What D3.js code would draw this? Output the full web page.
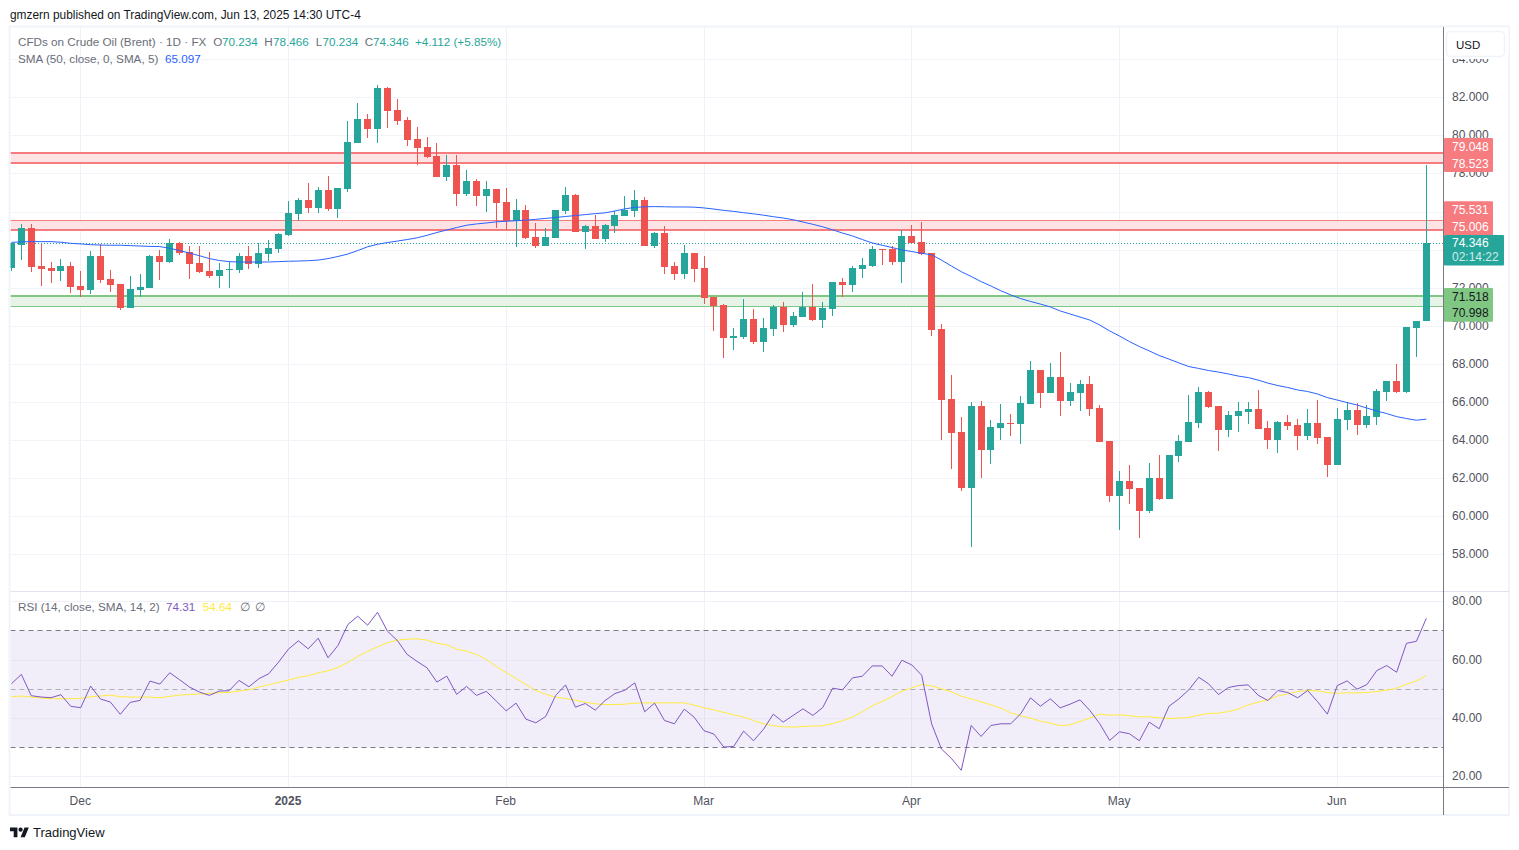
<!DOCTYPE html>
<html><head><meta charset="utf-8">
<style>html,body{margin:0;padding:0;background:#fff;overflow:hidden}svg{display:block}
text{font-family:"Liberation Sans",Arial,sans-serif;font-size:12px}</style>
<script src="https://cdn.jsdelivr.net/npm/d3@7/dist/d3.min.js"></script>
</head><body><svg id="c" width="1519" height="850"></svg>
<script>
const open=[73.02,74.23,75.12,73.12,73.02,72.86,73.12,72.07,71.86,73.65,
72.44,72.18,70.91,71.86,71.96,73.65,73.33,74.33,73.86,73.28,
72.86,72.60,72.91,72.91,73.65,73.23,73.75,74.02,74.75,75.86,
76.60,76.18,77.12,76.12,77.18,79.60,80.86,80.33,82.49,81.33,
80.81,79.81,79.39,78.91,77.81,78.44,76.91,77.60,76.81,77.18,
76.49,75.49,76.07,74.65,74.18,74.60,76.02,76.86,74.91,75.23,
74.54,75.23,75.75,76.02,76.60,74.18,74.86,73.12,72.70,73.81,
73.03,71.51,71.09,69.36,69.41,70.35,69.15,69.83,70.99,70.04,
70.46,70.99,70.30,70.88,72.30,72.14,72.98,73.14,74.03,74.03,
73.35,74.71,74.40,73.82,69.83,66.16,64.42,61.48,65.79,63.48,
64.63,64.90,64.84,65.89,67.68,66.47,67.31,66.05,66.47,66.94,
65.68,63.95,61.06,61.85,61.48,60.27,62.01,60.90,63.16,63.90,
64.89,66.52,65.79,64.53,65.26,65.47,65.63,64.63,64.00,64.95,
64.79,64.21,64.89,64.16,62.69,65.05,65.58,64.79,65.21,66.52,
67.10,66.52,69.88,70.234];
const high=[74.35,75.37,75.32,74.32,73.33,73.49,73.33,72.86,73.91,74.32,
72.91,72.18,72.60,72.70,73.70,73.96,74.54,74.39,74.18,74.18,
73.86,73.28,73.33,73.81,74.18,74.33,74.49,74.86,76.54,76.70,
77.49,77.28,77.86,77.23,80.75,81.70,81.12,82.65,82.54,81.91,
80.96,80.44,79.91,79.60,78.96,78.96,78.18,77.70,77.60,77.18,
77.23,76.65,76.33,75.39,75.12,76.07,77.28,76.91,75.28,75.81,
75.33,76.02,76.81,77.12,76.75,74.91,75.23,73.33,74.23,73.81,
73.66,71.51,71.14,69.88,71.41,70.88,70.41,71.09,71.25,70.72,
71.77,72.19,71.25,72.30,72.51,73.14,73.56,74.19,74.03,74.19,
75.03,75.29,75.45,73.82,70.09,67.42,65.21,66.00,66.05,65.05,
65.89,65.37,66.31,68.15,67.68,68.05,68.62,67.00,67.15,67.36,
65.84,63.95,62.37,62.69,61.48,62.79,63.21,63.21,64.26,66.36,
66.78,66.57,65.79,65.52,66.00,66.00,66.63,64.98,64.98,65.31,
65.10,65.63,66.10,64.16,65.68,66.00,65.94,65.84,66.68,67.10,
67.99,69.94,70.25,78.466];
const low=[72.86,73.44,72.81,72.07,72.23,72.33,71.70,71.49,71.65,72.23,
71.75,70.81,70.91,71.49,71.96,72.39,73.28,73.70,72.44,72.75,
72.49,71.96,71.96,72.75,72.96,73.02,73.39,73.81,74.70,75.49,
75.91,75.91,76.02,75.65,77.02,79.60,79.86,79.60,80.39,80.54,
79.44,78.44,78.81,77.81,77.60,76.28,76.81,76.28,75.96,75.12,
75.02,74.12,74.54,74.07,74.18,74.60,75.86,74.91,74.02,74.54,
74.39,74.86,75.75,75.70,74.18,74.07,72.70,72.39,72.44,72.30,
71.14,69.72,68.31,68.73,69.30,69.04,68.62,69.46,69.67,69.93,
70.46,70.25,69.88,70.51,71.51,71.77,72.51,73.09,73.19,73.19,
72.25,74.35,73.72,69.46,64.00,62.48,61.32,58.38,62.01,62.74,
64.00,64.21,63.79,65.89,65.68,66.47,65.26,65.79,65.53,65.26,
63.90,60.75,59.27,60.64,58.85,60.17,60.85,60.90,62.85,63.90,
64.63,65.68,63.42,64.16,64.42,64.84,64.58,63.53,63.32,64.53,
63.48,64.00,63.79,62.06,62.69,64.53,64.26,64.63,64.79,66.05,
66.47,66.47,68.36,70.234];
const close=[74.35,75.12,73.07,72.96,72.86,73.12,72.02,71.86,73.65,72.39,
72.12,70.91,71.91,72.02,73.65,73.33,74.33,73.81,73.23,72.81,
72.60,72.91,72.96,73.65,73.23,73.81,74.07,74.81,75.91,76.60,
76.18,77.12,76.12,77.23,79.65,80.86,80.33,82.49,81.28,80.75,
79.75,79.33,78.86,77.81,78.44,76.91,77.60,76.81,77.18,76.44,
75.49,76.07,74.60,74.18,74.65,76.07,76.86,74.91,75.23,74.54,
75.28,75.81,76.07,76.60,74.18,74.86,73.07,72.70,73.81,72.96,
71.46,71.04,69.36,69.46,70.35,69.15,69.88,70.99,70.04,70.51,
70.99,70.30,70.93,72.30,72.14,73.03,73.19,74.03,73.98,73.35,
74.71,74.35,73.77,69.78,66.10,64.37,61.48,65.79,63.48,64.68,
64.90,64.84,65.94,67.68,66.47,67.31,66.05,66.52,66.94,65.63,
63.90,61.06,61.85,61.43,60.27,62.01,60.90,63.21,63.95,64.95,
66.52,65.73,64.53,65.31,65.52,65.63,64.58,64.00,64.95,64.74,
64.21,64.89,64.11,62.69,65.10,65.58,64.79,65.26,66.58,67.10,
66.52,69.94,70.25,74.346];
const sma50=[74.38,74.41,74.42,74.42,74.42,74.39,74.33,74.30,74.26,74.24,
74.23,74.23,74.21,74.19,74.17,74.16,74.07,73.95,73.82,73.68,
73.53,73.43,73.37,73.35,73.35,73.35,73.35,73.37,73.39,73.40,
73.42,73.45,73.53,73.64,73.77,73.95,74.15,74.28,74.37,74.45,
74.53,74.62,74.75,74.90,75.03,75.16,75.28,75.35,75.40,75.46,
75.49,75.52,75.55,75.59,75.64,75.69,75.74,75.79,75.84,75.89,
75.93,76.03,76.14,76.22,76.25,76.26,76.25,76.24,76.24,76.23,
76.19,76.13,76.06,76.01,75.94,75.88,75.81,75.73,75.66,75.57,
75.45,75.33,75.20,75.04,74.87,74.72,74.53,74.35,74.23,74.11,
73.98,73.90,73.81,73.73,73.45,73.14,72.84,72.59,72.32,72.09,
71.84,71.62,71.43,71.28,71.14,70.99,70.78,70.62,70.46,70.30,
70.04,69.73,69.46,69.17,68.91,68.68,68.44,68.25,68.05,67.86,
67.76,67.65,67.57,67.47,67.36,67.28,67.15,66.99,66.86,66.76,
66.63,66.55,66.42,66.23,66.10,65.97,65.84,65.68,65.52,65.39,
65.23,65.13,65.04,65.097];
const rsi=[51.87,55.06,47.76,47.31,47.08,48.11,44.12,43.66,51.07,46.63,
45.60,41.38,45.48,46.17,52.78,51.76,55.63,53.24,50.73,49.02,
47.88,49.36,49.48,53.01,50.84,53.58,55.29,59.28,63.73,66.58,
63.84,67.49,60.76,64.98,72.17,75.02,71.94,76.39,69.89,66.69,
61.90,59.51,57.34,52.44,54.49,48.22,50.96,47.88,49.25,45.94,
42.59,45.21,39.74,38.48,40.65,47.83,51.48,43.84,45.10,42.82,
46.12,48.52,49.66,52.17,42.25,45.21,39.28,38.14,43.16,40.42,
35.75,34.61,30.16,30.39,35.63,32.33,36.20,41.45,38.71,40.99,
43.27,40.99,43.73,50.34,49.77,53.88,54.45,57.98,57.98,54.45,
59.92,58.32,54.79,38.14,29.48,26.28,22.18,37.57,33.80,37.57,
38.14,38.14,41.56,47.04,44.18,46.69,43.61,44.87,46.35,42.70,
38.14,32.44,35.40,34.72,32.33,38.71,36.43,44.18,46.69,49.77,
54.10,51.82,48.18,50.57,51.25,51.48,47.95,46.12,49.54,48.86,
47.04,49.54,45.78,41.45,51.25,52.85,50.00,51.60,56.39,58.10,
55.82,65.74,66.42,74.31];
const rsiMa=[47.42,47.65,47.31,46.97,46.74,46.74,46.74,46.85,47.42,47.65,
47.99,47.42,47.31,47.31,47.31,47.08,47.54,47.99,48.22,48.34,
48.56,48.79,48.91,49.36,49.82,50.73,51.53,52.33,53.12,54.04,
54.61,55.63,56.32,57.46,59.17,61.22,62.93,64.53,65.90,66.81,
67.15,67.26,66.81,65.78,65.21,63.73,63.04,61.90,60.19,57.80,
55.70,53.65,51.60,49.54,48.29,47.26,46.81,46.24,45.55,44.98,
44.75,44.75,44.87,45.21,45.32,45.32,45.32,45.32,45.32,44.53,
43.61,42.93,42.02,41.22,40.42,39.28,38.14,37.46,37.11,37.00,
37.23,37.34,37.46,38.26,39.17,40.42,42.25,44.30,45.78,47.49,
49.32,50.46,51.60,51.14,50.11,49.09,47.61,46.69,45.67,44.64,
43.50,41.90,40.88,40.08,39.05,38.37,37.46,37.80,38.94,40.08,
41.45,41.11,41.22,40.88,40.54,40.54,40.19,39.97,40.08,40.31,
41.11,41.68,41.79,42.36,43.16,44.64,45.55,46.35,47.72,48.40,
49.20,49.54,49.43,48.86,48.63,48.75,48.75,48.86,49.20,49.66,
50.34,51.71,52.85,54.64];
const timeTickIndex=[7,28,50,70,91,112,134];
const timeTickLabel=["Dec","2025","Feb","Mar","Apr","May","Jun"];
const priceGrid=[58,60,62,64,66,68,70,72,74,76,78,80,82,84];
const priceLabels=[58,60,62,64,66,68,70,72,78,80,82,84];
const rsiTicks=[20,40,60,80];
const rsiLevels=[70,50,30];
const redZones=[[78.523,79.048],[75.006,75.531]];
const greenZones=[[70.998,71.518]];
const lastPrice=74.346, countdown="02:14:22";
const titleText="gmzern published on TradingView.com, Jun 13, 2025 14:30 UTC-4";
const symbolText="CFDs on Crude Oil (Brent) · 1D · FX";
const smaText="SMA (50, close, 0, SMA, 5)", smaValue="65.097";
const rsiText="RSI (14, close, SMA, 14, 2)", rsiValue="74.31", rsiMaValue="54.64";

const GREEN="#26a69a",RED="#ef5350",GRID="#f2f3f8",VGRID="#eff1f9",AXIS="#787b86",TXT="#50535e",LEG="#6a6d78",YEL="#ffeb3b";
const L=10.5,R=1443.5,PT=27,PB=591,RB=787,FB=815;
const svg=d3.select("#c");
const defs=svg.append("defs");
defs.append("clipPath").attr("id","pp").append("rect").attr("x",L).attr("y",PT).attr("width",R-L).attr("height",PB-PT);
defs.append("clipPath").attr("id","rp").append("rect").attr("x",L).attr("y",PB).attr("width",R-L).attr("height",RB-PB);
const gu=defs.append("linearGradient").attr("id","gOb").attr("x1",0).attr("x2",0).attr("y1",0).attr("y2",1);
gu.append("stop").attr("offset","0").attr("stop-color","#4caf50").attr("stop-opacity",0.02);
gu.append("stop").attr("offset","1").attr("stop-color","#4caf50").attr("stop-opacity",0.16);
const gd=defs.append("linearGradient").attr("id","gOs").attr("x1",0).attr("x2",0).attr("y1",0).attr("y2",1);
gd.append("stop").attr("offset","0").attr("stop-color","#f23645").attr("stop-opacity",0.16);
gd.append("stop").attr("offset","1").attr("stop-color","#f23645").attr("stop-opacity",0.02);

const idx=d3.range(close.length);
const x=d3.scaleLinear().domain([0,143]).range([11.45,1426.3]);
const y=d3.scaleLinear().domain([58,82]).range([554.3,97.3]);
const yr=d3.scaleLinear().domain([20,80]).range([776.7,601.7]);
const cr=v=>Math.round(v)+0.5;
const fl=v=>Math.floor(v)+0.5;

// frame
svg.append("rect").attr("x",9.5).attr("y",26.5).attr("width",1499.5).attr("height",788.5).attr("fill","none").attr("stroke","#f0f3fa").attr("stroke-width",2);

// vertical grid
svg.append("g").selectAll("line").data(timeTickIndex).join("line")
 .attr("x1",d=>cr(x(d)-.5)).attr("x2",d=>cr(x(d)-.5)).attr("y1",PT).attr("y2",RB).attr("stroke",VGRID);
// horizontal grid
const main=svg.append("g").attr("clip-path","url(#pp)");
main.append("g").selectAll("line").data(priceGrid).join("line")
 .attr("x1",L).attr("x2",R).attr("y1",d=>cr(y(d))).attr("y2",d=>cr(y(d))).attr("stroke",GRID);

// zones: [lower, upper] edges with their line widths
function zone(z,widths,fill,line){
 const g=main.append("g");
 g.selectAll("rect").data(z).join("rect").attr("x",L).attr("width",R-L)
  .attr("y",d=>y(d[1])).attr("height",d=>y(d[0])-y(d[1])).attr("fill",fill);
 z.forEach((d,k)=>d.forEach((v,j)=>{
  const w=widths[k][j],py=w===2?Math.floor(y(v)):Math.floor(y(v))+.5;
  g.append("line").attr("x1",L).attr("x2",R).attr("y1",py).attr("y2",py).attr("stroke",line).attr("stroke-width",w);}));
}
zone(redZones,[[2,2],[2,1]],"#fde3e4","#f77c80");
zone(greenZones,[[1,2]],"#e6f3e6","#81c784");

// last price line
main.append("line").attr("x1",L).attr("x2",R).attr("y1",cr(y(lastPrice))).attr("y2",cr(y(lastPrice)))
 .attr("stroke",GREEN).attr("stroke-dasharray","1 2").attr("shape-rendering","crispEdges");

// candles
const col=i=>close[i]>=open[i]?GREEN:RED;
const cg=main.append("g").attr("shape-rendering","crispEdges");
cg.selectAll("rect.w").data(idx).join("rect").attr("class","w")
 .attr("x",i=>Math.round(x(i)-3.5)+3).attr("width",1)
 .attr("y",i=>Math.round(y(high[i]))).attr("height",i=>Math.max(1,Math.round(y(low[i]))-Math.round(y(high[i]))))
 .attr("fill",col);
cg.selectAll("rect.b").data(idx).join("rect").attr("class","b")
 .attr("x",i=>Math.round(x(i)-3.5)).attr("width",7)
 .attr("y",i=>Math.round(y(Math.max(open[i],close[i]))))
 .attr("height",i=>Math.max(1,Math.round(y(Math.min(open[i],close[i])))-Math.round(y(Math.max(open[i],close[i])))))
 .attr("fill",col);

// SMA
main.append("path").datum(idx).attr("fill","none").attr("stroke","#2962ff").attr("stroke-width",1)
 .attr("d",d3.line().x(i=>x(i)).y(i=>y(sma50[i])));

// RSI pane
const rp=svg.append("g").attr("clip-path","url(#rp)");
rp.append("rect").attr("x",L).attr("width",R-L).attr("y",fl(yr(70))).attr("height",fl(yr(30))-fl(yr(70))).attr("fill","#7e57c2").attr("fill-opacity",.1);
rp.append("g").selectAll("line").data(rsiTicks).join("line").attr("x1",L).attr("x2",R)
 .attr("y1",d=>fl(yr(d))).attr("y2",d=>fl(yr(d))).attr("stroke",d=>(d===20||d===80)?"#f0f1f8":"#e8e5f5");
rp.append("g").selectAll("line").data(rsiLevels).join("line").attr("x1",L).attr("x2",R)
 .attr("y1",d=>fl(yr(d))).attr("y2",d=>fl(yr(d))).attr("stroke",AXIS).attr("stroke-dasharray","5 4").attr("stroke-opacity",d=>d===50?.55:1);
const ob=rp.append("g"),os=rp.append("g");
defs.append("clipPath").attr("id","ob").append("rect").attr("x",L).attr("width",R-L).attr("y",yr(80)).attr("height",fl(yr(70))-yr(80));
defs.append("clipPath").attr("id","os").append("rect").attr("x",L).attr("width",R-L).attr("y",fl(yr(30))).attr("height",yr(20)-fl(yr(30)));
ob.attr("clip-path","url(#ob)").append("path").datum(idx).attr("fill","url(#gOb)")
 .attr("d",d3.area().x(i=>x(i)).y0(yr(70)).y1(i=>yr(rsi[i])));
os.attr("clip-path","url(#os)").append("path").datum(idx).attr("fill","url(#gOs)")
 .attr("d",d3.area().x(i=>x(i)).y0(yr(30)).y1(i=>yr(rsi[i])));
rp.append("path").datum(idx).attr("fill","none").attr("stroke",YEL).attr("stroke-width",1)
 .attr("d",d3.line().x(i=>x(i)).y(i=>yr(rsiMa[i])));
rp.append("path").datum(idx).attr("fill","none").attr("stroke","#7e57c2").attr("stroke-width",1)
 .attr("d",d3.line().x(i=>x(i)).y(i=>yr(rsi[i])));

// pane separator
svg.append("line").attr("x1",L).attr("x2",1509).attr("y1",PB+.5).attr("y2",PB+.5).attr("stroke","#e0e3eb");

// axes
const fmtAxis=g=>{g.select(".domain").remove();g.selectAll(".tick line").remove();
 g.selectAll("text").attr("fill",TXT).style("font-size","12px");};
svg.append("g").attr("transform",`translate(${R},-0.5)`)
 .call(d3.axisRight(y).tickValues(priceLabels).tickFormat(d3.format(".3f")).tickSize(0).tickPadding(8.5)).call(fmtAxis);
// mask above the price scale
svg.append("rect").attr("x",R+1).attr("y",27.5).attr("width",64).attr("height",31.5).attr("fill","#fff");
svg.append("rect").attr("x",1446.5).attr("y",31.5).attr("width",58).attr("height",25).attr("rx",4).attr("fill","#fff").attr("stroke","#f0f3fa").attr("stroke-width",1.5);
svg.append("text").attr("x",1456).attr("y",49).attr("fill","#131722").style("font-size","11.5px").text("USD");
svg.append("g").attr("transform",`translate(${R},-0.7)`)
 .call(d3.axisRight(yr).tickValues(rsiTicks).tickFormat(d3.format(".2f")).tickSize(0).tickPadding(8.5)).call(fmtAxis);
svg.append("g").attr("transform",`translate(-1,${RB})`)
 .call(d3.axisBottom(x).tickValues(timeTickIndex).tickFormat((d,i)=>timeTickLabel[i]).tickSize(0).tickPadding(9)).call(fmtAxis)
 .selectAll("text").style("font-weight",(d,i)=>timeTickLabel[i]==="2025"?"bold":"normal");
svg.append("line").attr("x1",L).attr("x2",1509).attr("y1",RB+.5).attr("y2",RB+.5).attr("stroke",AXIS);
svg.append("line").attr("x1",R).attr("x2",R).attr("y1",PT).attr("y2",FB).attr("stroke",AXIS);

// price-scale tags: zone, vertical centre of its upper and lower label
function tag(z,centres,fill,tc){
 svg.append("rect").attr("x",R+.5).attr("width",49).attr("y",centres[0]-8.5).attr("height",centres[1]-centres[0]+17).attr("rx",1).attr("fill",fill);
 svg.append("text").attr("x",1452).attr("y",centres[0]+4).attr("fill",tc).text(d3.format(".3f")(z[1]));
 svg.append("text").attr("x",1452).attr("y",centres[1]+4).attr("fill",tc).text(d3.format(".3f")(z[0]));
}
tag(redZones[0],[146.5,163.5],"#f77c80","#fff");
tag(redZones[1],[209.7,226.7],"#f77c80","#fff");
tag(greenZones[0],[296.5,313.3],"#81c784","#131722");
svg.append("rect").attr("x",R+.5).attr("y",y(lastPrice)-8).attr("width",60).attr("height",30.5).attr("rx",1).attr("fill",GREEN);
svg.append("text").attr("x",1452).attr("y",y(lastPrice)+4).attr("fill","#fff").text(d3.format(".3f")(lastPrice));
svg.append("text").attr("x",1452).attr("y",y(lastPrice)+18).attr("fill","#fff").attr("fill-opacity",.8).text(countdown);

// legends
function runs(yy,parts){parts.forEach(p=>svg.append("text").attr("x",p[0]).attr("y",yy).attr("fill",p[2]).style("font-size","11.7px").text(p[1]));}
const fx=d3.format(".3f");
runs(46,[[18,symbolText,LEG],[213.3,"O",LEG],[222,fx(open[143]),GREEN],[264.3,"H",LEG],[273,fx(high[143]),GREEN],
 [315.7,"L",LEG],[322.5,fx(low[143]),GREEN],[364.7,"C",LEG],[373,fx(close[143]),GREEN],[415,"+4.112 (+5.85%)",GREEN]]);
runs(63,[[18,smaText,LEG],[165,smaValue,"#2962ff"]]);
runs(610.5,[[18,rsiText,LEG],[166,rsiValue,"#7e57c2"],[202.7,rsiMaValue,YEL],[240,"∅",LEG],[255,"∅",LEG]]);
svg.append("text").attr("x",10).attr("y",19).attr("fill","#131722").style("font-size","11.9px").text(titleText);

// footer
const logo=svg.append("g").attr("transform","translate(10,825.5) scale(0.53)").attr("fill","#131722");
logo.append("path").attr("d","M14 22H7V11H0V4h14v18zM28 22h-8l7.5-18h8L28 22z");
logo.append("circle").attr("cx",20).attr("cy",8).attr("r",4);
svg.append("text").attr("x",33).attr("y",837).attr("fill","#131722").style("font-size","13px").text("TradingView");
</script></body></html>
